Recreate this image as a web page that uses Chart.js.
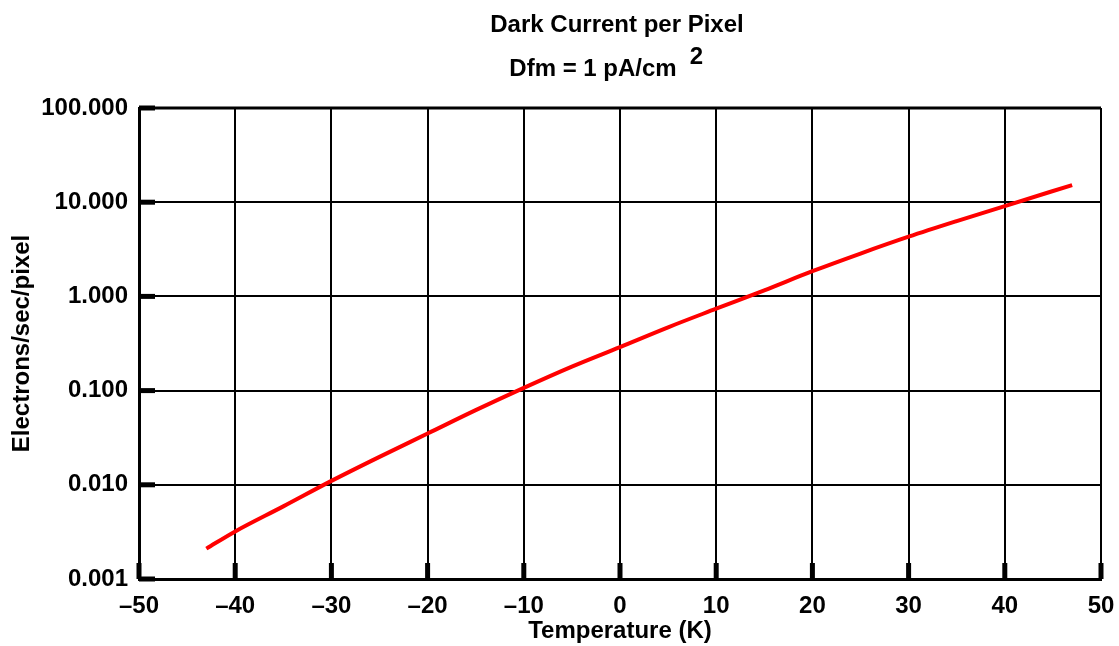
<!DOCTYPE html>
<html>
<head>
<meta charset="utf-8">
<script src="https://cdn.jsdelivr.net/npm/chart.js@4.4.0/dist/chart.umd.min.js"></script>
<style>
  html, body { margin: 0; padding: 0; background: #fff; }
  #wrap { width: 1119px; height: 646px; }
</style>
</head>
<body>
<div id="wrap"><canvas id="darkChart" width="1119" height="646"></canvas></div>
<script>
// values
const temperatures = [-43, -40, -35, -30, -25, -20, -15, -10, -5, 0, 5, 10, 15, 20, 25, 30, 35, 40, 47];
const electrons = [0.0021, 0.0032, 0.0059, 0.011, 0.0198, 0.035, 0.062, 0.107, 0.18, 0.29, 0.47, 0.74, 1.16, 1.85, 2.85, 4.3, 6.3, 9.1, 15.2];
const yTicks = [0.001, 0.01, 0.1, 1, 10, 100];
const titleLines = ["Dark Current per Pixel", "Dfm = 1 pA/cm"];
const titleSup = "2";

const FONT = "'Liberation Sans', Arial, sans-serif";

// titles drawn over the plot area, plus the raised "2"
const titlePlugin = {
  id: "titles",
  afterDraw(chart) {
    const { ctx, chartArea } = chart;
    const cx = (chartArea.left + chartArea.right) / 2;
    ctx.save();
    ctx.fillStyle = "#000";
    ctx.font = "bold 24px " + FONT;
    ctx.textAlign = "center";
    ctx.textBaseline = "middle";
    ctx.fillText(titleLines[0], cx - 3, 25);
    const w2 = ctx.measureText(titleLines[1]).width;
    const start = cx - 27 - w2 / 2;
    ctx.textAlign = "left";
    ctx.fillText(titleLines[1], start, 69);
    ctx.fillText(titleSup, start + w2 + 13, 57);
    ctx.restore();
  }
};

// short heavy ticks pointing into the plot
const innerTicks = {
  id: "innerTicks",
  afterDatasetsDraw(chart) {
    const { ctx, chartArea, scales } = chart;
    ctx.save();
    ctx.strokeStyle = "#000";
    ctx.lineWidth = 5;
    ctx.lineCap = "butt";
    scales.x.ticks.forEach((t) => {
      const px = scales.x.getPixelForValue(t.value);
      ctx.beginPath();
      ctx.moveTo(px, chartArea.bottom);
      ctx.lineTo(px, chartArea.bottom - 16);
      ctx.stroke();
    });
    scales.y.ticks.forEach((t) => {
      const py = scales.y.getPixelForValue(t.value);
      ctx.beginPath();
      ctx.moveTo(chartArea.left, py);
      ctx.lineTo(chartArea.left + 16, py);
      ctx.stroke();
    });
    ctx.lineWidth = 3;
    ctx.beginPath();
    ctx.moveTo(chartArea.left, chartArea.top);
    ctx.lineTo(chartArea.right, chartArea.top);
    ctx.stroke();
    ctx.restore();
  }
};

new Chart(document.getElementById("darkChart").getContext("2d"), {
  type: "line",
  data: {
    datasets: [
      {
        data: temperatures.map((t, i) => ({ x: t, y: electrons[i] })),
        borderColor: "#ff0000",
        borderWidth: 4,
        pointRadius: 0,
        cubicInterpolationMode: "monotone",
        fill: false,
      },
    ],
  },
  options: {
    responsive: false,
    animation: false,
    layout: { padding: { top: 108, right: 18, left: 0, bottom: 0 } },
    plugins: { legend: { display: false }, tooltip: { enabled: false }, title: { display: false } },
    scales: {
      x: {
        type: "linear",
        min: -50,
        max: 50,
        afterFit: (scale) => {
          scale.height = 67;
          scale.paddingLeft = 0;
          scale.paddingRight = 0;
        },
        ticks: {
          stepSize: 10,
          color: "#000",
          font: { family: FONT, size: 24, weight: "bold", lineHeight: 1.0 },
          padding: 15,
          maxRotation: 0,
          callback: (v) => (v < 0 ? "\u2013" + Math.abs(v) : String(v)),
        },
        grid: { color: "#000", lineWidth: 2, drawTicks: false },
        border: { color: "#000", width: 3 },
        title: {
          display: true,
          text: "Temperature (K)",
          color: "#000",
          font: { family: FONT, size: 24, weight: "bold", lineHeight: 1.0 },
          padding: { top: 0, bottom: 3 },
        },
      },
      y: {
        type: "logarithmic",
        min: 0.001,
        max: 100,
        afterBuildTicks: (scale) => {
          scale.ticks = yTicks.map((v) => ({ value: v }));
        },
        afterFit: (scale) => {
          scale.width = 139;
          scale.paddingTop = 0;
          scale.paddingBottom = 0;
        },
        ticks: {
          color: "#000",
          font: { family: FONT, size: 24, weight: "bold" },
          padding: 11,
          callback: (v) => Number(v).toFixed(3),
        },
        grid: { color: "#000", lineWidth: 2, drawTicks: false },
        border: { color: "#000", width: 3 },
        title: {
          display: true,
          text: "Electrons/sec/pixel",
          color: "#000",
          font: { family: FONT, size: 24, weight: "bold", lineHeight: 1.0 },
          padding: { top: 10, bottom: 4 },
        },
      },
    },
  },
  plugins: [titlePlugin, innerTicks],
});
</script>
</body>
</html>
